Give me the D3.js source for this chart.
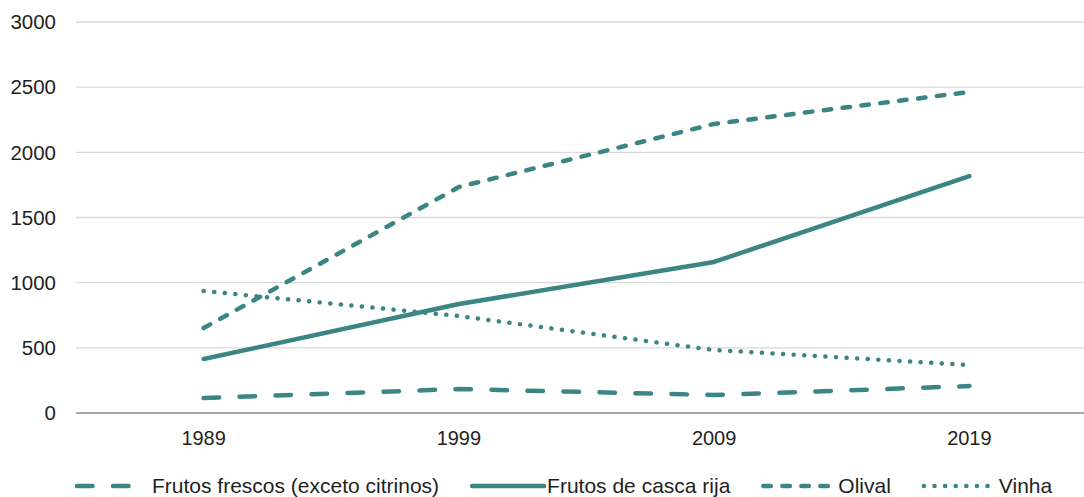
<!DOCTYPE html>
<html>
<head>
<meta charset="utf-8">
<script src="https://cdn.jsdelivr.net/npm/d3@7"></script>
<style>
  body { margin: 0; background: #fff; }
  text { font-family: "Liberation Sans", Arial, sans-serif; fill: #1f1f1f; }
</style>
</head>
<body>
<svg id="chart"></svg>
<script>
// chart data
const years = ["1989", "1999", "2009", "2019"]
const frutosFrescos = [115, 184, 138, 207]
const cascaRija = [414, 836, 1159, 1818]
const olival = [652, 1734, 2218, 2463]
const vinha = [936, 744, 483, 368]
const yTicks = [0, 500, 1000, 1500, 2000, 2500, 3000]
const seriesNames = ["Frutos frescos (exceto citrinos)", "Frutos de casca rija", "Olival", "Vinha"]

const width = 1084
const height = 497
const color = "#3b8585"

const series = [
  { name: seriesNames[0], values: frutosFrescos, dash: "15.5,20.5" },
  { name: seriesNames[1], values: cascaRija, dash: null },
  { name: seriesNames[2], values: olival, dash: "7.5,11.5" },
  { name: seriesNames[3], values: vinha, dash: "0.1,10.5" }
]

const svg = d3.select("#chart")
  .attr("width", width)
  .attr("height", height)

const x = d3.scaleBand()
  .domain(years)
  .range([76, 1097])

const y = d3.scaleLinear()
  .domain([0, 3000])
  .range([413, 22])

const cx = d => x(d) + x.bandwidth() / 2

// gridlines
svg.append("g")
  .selectAll("line")
  .data(yTicks)
  .enter()
  .append("line")
  .attr("x1", 76)
  .attr("x2", 1097)
  .attr("y1", d => y(d))
  .attr("y2", d => y(d))
  .attr("stroke", d => d === 0 ? "#8c8c8c" : "#d9d9d9")
  .attr("stroke-width", 1.4)

// y tick labels
svg.append("g")
  .selectAll("text")
  .data(yTicks)
  .enter()
  .append("text")
  .attr("x", 56)
  .attr("y", d => y(d))
  .attr("dy", "0.35em")
  .attr("text-anchor", "end")
  .style("font-size", "20.5px")
  .text(d => d)

// x tick labels
svg.append("g")
  .selectAll("text")
  .data(years)
  .enter()
  .append("text")
  .attr("x", d => cx(d))
  .attr("y", 438)
  .attr("dy", "0.35em")
  .attr("text-anchor", "middle")
  .style("font-size", "20px")
  .text(d => d)

const line = d3.line()
  .x((v, i) => cx(years[i]))
  .y(v => y(v))

svg.append("g")
  .selectAll("path")
  .data(series)
  .enter()
  .append("path")
  .attr("d", d => line(d.values))
  .attr("fill", "none")
  .attr("stroke", color)
  .attr("stroke-width", 4.5)
  .attr("stroke-linecap", "round")
  .attr("stroke-linejoin", "round")
  .attr("stroke-dasharray", d => d.dash)

// legend
const sampleLen = 72
const legendY = 486
const legend = svg.append("g")
let lx = 77
series.forEach(s => {
  legend.append("line")
    .attr("x1", lx)
    .attr("x2", lx + sampleLen)
    .attr("y1", legendY)
    .attr("y2", legendY)
    .attr("stroke", color)
    .attr("stroke-width", 4.5)
    .attr("stroke-linecap", "round")
    .attr("stroke-dasharray", s.dash)
  const t = legend.append("text")
    .attr("x", lx + sampleLen + 3)
    .attr("y", legendY)
    .attr("dy", "0.35em")
    .style("font-size", "21px")
    .text(s.name)
  lx += sampleLen + 3 + t.node().getComputedTextLength() + 33
})
</script>
</body>
</html>
